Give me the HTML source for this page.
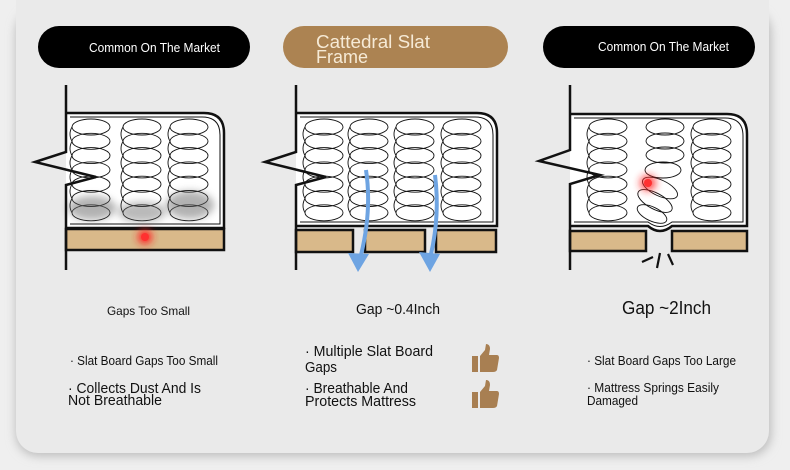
<!DOCTYPE html>
<html><head><meta charset="utf-8"><style>
html,body{margin:0;padding:0;background:#efefef;}
svg{display:block}
text{font-family:"Liberation Sans",sans-serif;fill:#111}
</style></head><body>
<svg width="790" height="470" viewBox="0 0 790 470" xmlns="http://www.w3.org/2000/svg">
<defs>
<filter id="sh" x="-5%" y="-5%" width="110%" height="120%"><feGaussianBlur stdDeviation="5"/></filter>
<filter id="bl" x="-50%" y="-50%" width="200%" height="200%"><feGaussianBlur stdDeviation="4"/></filter>
<g id="col" fill="none" stroke="#111" stroke-width="0.9">
<ellipse cx="0" cy="0" rx="19" ry="8"/><ellipse cx="0" cy="14.3" rx="19" ry="8"/><ellipse cx="0" cy="28.6" rx="19" ry="8"/><ellipse cx="0" cy="42.9" rx="19" ry="8"/><ellipse cx="0" cy="57.2" rx="19" ry="8"/><ellipse cx="0" cy="71.5" rx="19" ry="8"/><ellipse cx="0" cy="85.8" rx="19" ry="8"/>
<path d="M-19 0 Q-23 7 -19 14.3 Q-23 21.5 -19 28.6 Q-23 35.7 -19 42.9 Q-23 50 -19 57.2 Q-23 64.3 -19 71.5 Q-23 78.6 -19 85.8"/>
</g>
<g id="thumb" fill="#a87f52"><rect x="0" y="10" width="6" height="16"/><path d="M8 10 L13 4 L14 -2 Q18 -2 18 3 L17 9 L25 9 Q27 9 27 12 L25 24 Q24 26 21 26 L8 26 Z"/></g>
</defs>
<rect x="16" y="10" width="755" height="446" rx="22" fill="#bbb" filter="url(#sh)"/>
<rect x="16" y="-30" width="753" height="483" rx="22" fill="#eaeaea"/>

<!-- headers -->
<rect x="38" y="26" width="212" height="42" rx="21" fill="#000"/>
<text x="89" y="52" font-size="13" style="fill:#fff" textLength="131" lengthAdjust="spacingAndGlyphs">Common On The Market</text>
<rect x="283" y="26" width="225" height="42" rx="21" fill="#ac8352"/>
<text x="316" y="48" font-size="18" style="fill:#f6ead6" textLength="114" lengthAdjust="spacingAndGlyphs">Cattedral Slat</text>
<text x="316" y="63" font-size="18" style="fill:#f6ead6" textLength="52" lengthAdjust="spacingAndGlyphs">Frame</text>
<rect x="543" y="26" width="212" height="42" rx="21" fill="#000"/>
<text x="598" y="51" font-size="13" style="fill:#fff" textLength="131" lengthAdjust="spacingAndGlyphs">Common On The Market</text>

<!-- panel 1 -->
<g>
<path d="M66 113 L204 113 Q224 113 224 133 L224 228 L66 228 Z" fill="#fff"/>
<path d="M66 113 L204 113 Q224 113 224 133 L224 228 L66 228" fill="none" stroke="#111" stroke-width="2.5"/>
<path d="M70 117 L202 117 Q220 117 220 135 L220 224 L70 224" fill="none" stroke="#111" stroke-width="1"/>
<use href="#col" x="91" y="127"/><use href="#col" x="142" y="127"/><use href="#col" x="189" y="127"/>
<ellipse cx="92" cy="208" rx="24" ry="12" fill="#666" opacity=".5" filter="url(#bl)"/>
<ellipse cx="142" cy="212" rx="24" ry="10" fill="#666" opacity=".45" filter="url(#bl)"/>
<ellipse cx="190" cy="205" rx="24" ry="14" fill="#666" opacity=".5" filter="url(#bl)"/>
<rect x="66" y="229" width="158" height="21" fill="#d9b98a" stroke="#111" stroke-width="2.5"/>
<circle cx="145" cy="237" r="7" fill="#ff2020" filter="url(#bl)"/>
<circle cx="145" cy="237" r="4" fill="#ff3030"/>
<path d="M66 85 L66 152 L35 162 L96 177 L66 185 L66 270" fill="none" stroke="#111" stroke-width="2.5"/>
</g>

<!-- panel 2 -->
<g>
<path d="M296 113 L477 113 Q497 113 497 133 L497 226 L296 226 Z" fill="#fff"/>
<path d="M296 113 L477 113 Q497 113 497 133 L497 226 L296 226" fill="none" stroke="#111" stroke-width="2.5"/>
<path d="M300 117 L475 117 Q493 117 493 135 L493 222 L300 222" fill="none" stroke="#111" stroke-width="1"/>
<use href="#col" x="324" y="127"/><use href="#col" x="369" y="127"/><use href="#col" x="415" y="127"/><use href="#col" x="462" y="127"/>
<rect x="296" y="230" width="57" height="22" fill="#d9b98a" stroke="#111" stroke-width="2.5"/>
<rect x="365" y="230" width="60" height="22" fill="#d9b98a" stroke="#111" stroke-width="2.5"/>
<rect x="436" y="230" width="60" height="22" fill="#d9b98a" stroke="#111" stroke-width="2.5"/>
<path d="M366 170 Q372 210 361 255" fill="none" stroke="#6ea4e2" stroke-width="4"/>
<path d="M348 253 L358 272 L369 254 Z" fill="#6ea4e2"/>
<path d="M435 175 Q440 215 431 254" fill="none" stroke="#6ea4e2" stroke-width="4"/>
<path d="M419 252 L430 272 L440 254 Z" fill="#6ea4e2"/>
<path d="M296 85 L296 152 L265 162 L326 177 L296 185 L296 270" fill="none" stroke="#111" stroke-width="2.5"/>
</g>

<!-- panel 3 -->
<g>
<path d="M570 114 L727 114 Q747 114 747 134 L747 226 L672 226 Q660 236 648 226 L570 226 Z" fill="#fff"/>
<path d="M570 114 L727 114 Q747 114 747 134 L747 226 L672 226 Q660 236 648 226 L570 226" fill="none" stroke="#111" stroke-width="2.5"/>
<path d="M574 118 L725 118 Q743 118 743 136 L743 222 L672 222 Q660 231 648 222 L574 222" fill="none" stroke="#111" stroke-width="1"/>
<use href="#col" x="608" y="127"/><use href="#col" x="712" y="127"/>
<g fill="none" stroke="#111" stroke-width="0.9">
<ellipse cx="665" cy="127" rx="19" ry="8"/><ellipse cx="665" cy="141" rx="19" ry="8"/><ellipse cx="665" cy="155" rx="19" ry="8"/><ellipse cx="663" cy="170" rx="18" ry="8"/>
<ellipse cx="660" cy="188" rx="19" ry="8" transform="rotate(25 660 188)"/>
<ellipse cx="655" cy="201" rx="19" ry="8" transform="rotate(28 655 201)"/>
<ellipse cx="652" cy="214" rx="16" ry="7" transform="rotate(25 652 214)"/>
</g>
<circle cx="648" cy="183" r="8" fill="#ff2020" opacity=".8" filter="url(#bl)"/>
<circle cx="648" cy="183" r="4" fill="#ff3030"/>
<rect x="570" y="231" width="76" height="20" fill="#d9b98a" stroke="#111" stroke-width="2.5"/>
<rect x="672" y="231" width="75" height="20" fill="#d9b98a" stroke="#111" stroke-width="2.5"/>
<path d="M642 262 L653 257 M657 268 L660 253 M668 254 L673 265" stroke="#111" stroke-width="2.2"/>
<path d="M570 85 L570 150 L539 161 L600 175 L570 184 L570 270" fill="none" stroke="#111" stroke-width="2.5"/>
</g>

<!-- labels -->
<text x="107" y="315" font-size="12" textLength="83" lengthAdjust="spacingAndGlyphs">Gaps Too Small</text>
<text x="356" y="314" font-size="15" textLength="84" lengthAdjust="spacingAndGlyphs">Gap ~0.4Inch</text>
<text x="622" y="314" font-size="18" textLength="89" lengthAdjust="spacingAndGlyphs">Gap ~2Inch</text>

<text x="70" y="365" font-size="12.5" textLength="148" lengthAdjust="spacingAndGlyphs">· Slat Board Gaps Too Small</text>
<text x="68" y="393" font-size="15" textLength="133" lengthAdjust="spacingAndGlyphs">· Collects Dust And Is</text>
<text x="68" y="405" font-size="15" textLength="94" lengthAdjust="spacingAndGlyphs">Not Breathable</text>

<text x="305" y="356" font-size="15" textLength="128" lengthAdjust="spacingAndGlyphs">· Multiple Slat Board</text>
<text x="305" y="372" font-size="15" textLength="32" lengthAdjust="spacingAndGlyphs">Gaps</text>
<text x="305" y="393" font-size="15" textLength="103" lengthAdjust="spacingAndGlyphs">· Breathable And</text>
<text x="305" y="406" font-size="15" textLength="111" lengthAdjust="spacingAndGlyphs">Protects Mattress</text>
<use href="#thumb" x="472" y="346"/>
<use href="#thumb" x="472" y="382"/>

<text x="587" y="365" font-size="13" textLength="149" lengthAdjust="spacingAndGlyphs">· Slat Board Gaps Too Large</text>
<text x="587" y="392" font-size="13" textLength="132" lengthAdjust="spacingAndGlyphs">· Mattress Springs Easily</text>
<text x="587" y="405" font-size="13" textLength="51" lengthAdjust="spacingAndGlyphs">Damaged</text>
</svg>
</body></html>
